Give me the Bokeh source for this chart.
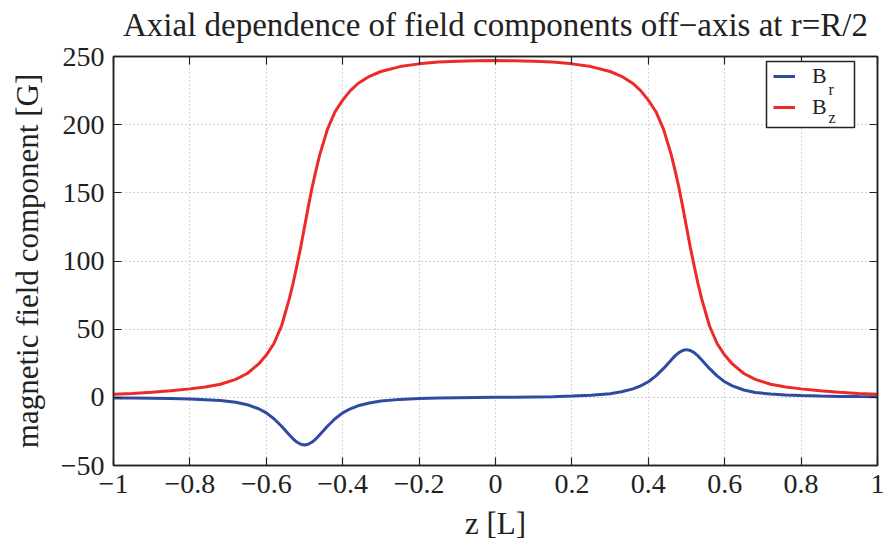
from bokeh.plotting import figure
from bokeh.models import (FixedTicker, LinearAxis, Legend, LegendItem, Label, BoxAnnotation,
                          Range1d, CustomJSTickFormatter, ColumnDataSource, Title)
from bokeh.embed import file_html
from bokeh.resources import INLINE

# ---------------- data ----------------
z = [-1.00, -0.95, -0.90, -0.85, -0.80, -0.76, -0.72, -0.68, -0.65, -0.62,
     -0.60, -0.58, -0.56, -0.54, -0.53, -0.52, -0.51, -0.50, -0.49, -0.48,
     -0.47, -0.46, -0.44, -0.42, -0.40, -0.38, -0.36, -0.33, -0.30, -0.25,
     -0.20, -0.15, -0.10, -0.05, 0.00, 0.05, 0.10, 0.15, 0.20, 0.25,
     0.30, 0.33, 0.36, 0.38, 0.40, 0.42, 0.44, 0.46, 0.47, 0.48,
     0.49, 0.50, 0.51, 0.52, 0.53, 0.54, 0.56, 0.58, 0.60, 0.62,
     0.65, 0.68, 0.72, 0.76, 0.80, 0.85, 0.90, 0.95, 1.00]

Br = [-0.45, -0.55, -0.7, -0.9, -1.3, -1.7, -2.4, -3.6, -5.4, -8.4,
      -11.4, -15.7, -21.2, -27.4, -30.4, -32.8, -34.4, -35.0, -34.4, -32.8,
      -30.4, -27.4, -21.2, -15.7, -11.4, -8.4, -6.2, -4.1, -2.7, -1.5,
      -0.9, -0.5, -0.3, -0.1, 0.0, 0.1, 0.3, 0.5, 0.9, 1.5,
      2.7, 4.1, 6.2, 8.4, 11.4, 15.7, 21.2, 27.4, 30.4, 32.8,
      34.4, 35.0, 34.4, 32.8, 30.4, 27.4, 21.2, 15.7, 11.4, 8.4,
      5.4, 3.6, 2.4, 1.7, 1.3, 0.9, 0.7, 0.55, 0.45]

Bz = [2.3, 2.9, 3.7, 4.8, 6.2, 7.6, 9.6, 13.2, 17.5, 24.5,
      31.0, 39.5, 52.5, 72.0, 83.5, 96.5, 110.0, 125.0, 140.0, 154.0,
      166.5, 178.0, 196.5, 209.5, 218.0, 225.0, 230.2, 235.5, 239.0, 242.6,
      244.6, 245.9, 246.6, 246.9, 247.0, 246.9, 246.6, 245.9, 244.6, 242.6,
      239.0, 235.5, 230.2, 225.0, 218.0, 209.5, 196.5, 178.0, 166.5, 154.0,
      140.0, 125.0, 110.0, 96.5, 83.5, 72.0, 52.5, 39.5, 31.0, 24.5,
      17.5, 13.2, 9.6, 7.6, 6.2, 4.8, 3.7, 2.9, 2.3]

x_ticks = [-1, -0.8, -0.6, -0.4, -0.2, 0, 0.2, 0.4, 0.6, 0.8, 1]
x_tick_labels = ["−1", "−0.8", "−0.6", "−0.4", "−0.2", "0", "0.2", "0.4", "0.6", "0.8", "1"]
y_ticks = [-50, 0, 50, 100, 150, 200, 250]
y_tick_labels = ["−50", "0", "50", "100", "150", "200", "250"]
legend_base = "B"
legend_subs = ["r", "z"]

title_text = "Axial dependence of field components off−axis at r=R/2"
x_label = "z [L]"
y_label = "magnetic field component [G]"

# ---------------- styling ----------------
FONT = "Liberation Serif"
INK = "#222222"
BLUE = "#2f4b9f"
RED = "#ec2a2a"

p = figure(width=884, height=549, output_backend="svg", toolbar_location=None,
           x_range=Range1d(-1, 1), y_range=Range1d(-50, 250),
           min_border_left=113, min_border_right=7, min_border_top=56,
           min_border_bottom=84)
p.background_fill_color = "white"
p.border_fill_color = "white"
p.outline_line_color = INK
p.outline_line_width = 1.5

label_code = """
const i = tvals.findIndex(t => Math.abs(t - tick) < 1e-9);
return i >= 0 ? tlabels[i] : '';
"""

def style_axis(ax):
    ax.major_tick_in = 8
    ax.major_tick_out = 0
    ax.minor_tick_line_color = None
    ax.axis_line_color = INK
    ax.axis_line_width = 1.5
    ax.major_tick_line_color = INK
    ax.major_tick_line_width = 1.2

xa = p.xaxis[0]
ya = p.yaxis[0]
xa.ticker = FixedTicker(ticks=x_ticks)
ya.ticker = FixedTicker(ticks=y_ticks)
xa.formatter = CustomJSTickFormatter(args=dict(tvals=x_ticks, tlabels=x_tick_labels), code=label_code)
ya.formatter = CustomJSTickFormatter(args=dict(tvals=y_ticks, tlabels=y_tick_labels), code=label_code)
for ax in (xa, ya):
    style_axis(ax)
    ax.major_label_text_font = FONT
    ax.major_label_text_font_size = "28px"
    ax.major_label_text_color = INK
    ax.axis_label_text_font = FONT
    ax.axis_label_text_font_size = "31px"
    ax.axis_label_text_font_style = "normal"
    ax.axis_label_text_color = INK
xa.axis_label = x_label
ya.axis_label = y_label
xa.major_label_standoff = 9
ya.major_label_standoff = 9
xa.axis_label_standoff = 10
ya.axis_label_standoff = 13

empty = CustomJSTickFormatter(code="return '';")
top_ax = LinearAxis(ticker=FixedTicker(ticks=x_ticks), formatter=empty,
                    major_label_text_font_size="1px", major_label_standoff=0)
right_ax = LinearAxis(ticker=FixedTicker(ticks=y_ticks), formatter=empty,
                      major_label_text_font_size="1px", major_label_standoff=0)
style_axis(top_ax)
style_axis(right_ax)
p.add_layout(top_ax, "above")
p.add_layout(right_ax, "right")

# invisible spacer between the frame and the title
spacer = LinearAxis(ticker=FixedTicker(ticks=x_ticks), formatter=empty,
                    major_label_text_font_size="1px", major_label_standoff=0,
                    major_tick_in=0, major_tick_out=14, minor_tick_line_color=None,
                    major_tick_line_color=None, axis_line_color=None)
p.add_layout(spacer, "above")

p.add_layout(Title(text=title_text, text_font=FONT, text_font_size="33px",
                   text_font_style="normal", text_color=INK, align="center",
                   standoff=0), "above")

for g in (p.xgrid[0], p.ygrid[0]):
    g.grid_line_color = "#a8a8a8"
    g.grid_line_dash = "1 3"
    g.grid_line_width = 1

src = ColumnDataSource(dict(z=z, Br=Br, Bz=Bz))
r_br = p.line("z", "Br", source=src, line_color=BLUE, line_width=3)
r_bz = p.line("z", "Bz", source=src, line_color=RED, line_width=3)

# legend frame (white box hiding the grid), then the legend entries on top
LEG_X, LEG_W = 653, 88
BOX_Y, BOX_H = 338, 66
p.add_layout(BoxAnnotation(left=LEG_X, right=LEG_X + LEG_W, bottom=BOX_Y, top=BOX_Y + BOX_H,
                           left_units="screen", right_units="screen",
                           bottom_units="screen", top_units="screen",
                           fill_color="white", fill_alpha=1,
                           line_color=INK, line_width=1.5, line_alpha=1))

leg = Legend(items=[LegendItem(label=legend_base, renderers=[r_br]),
                    LegendItem(label=legend_base, renderers=[r_bz])],
             location=(LEG_X, 338), orientation="vertical", margin=0,
             padding=7, spacing=5, glyph_width=22, glyph_height=22,
             label_height=22, label_width=35, label_standoff=17,
             border_line_alpha=0, background_fill_alpha=0,
             label_text_font=FONT, label_text_font_size="22px",
             label_text_color=INK)
p.add_layout(leg)

for sub, yy in zip(legend_subs, [376, 348]):
    p.add_layout(Label(x=715, y=yy, x_units="screen", y_units="screen", text=sub,
                       text_font=FONT, text_font_size="16px", text_color=INK,
                       text_baseline="alphabetic", level="overlay"))

open("out.html", "w").write(file_html(p, INLINE))
